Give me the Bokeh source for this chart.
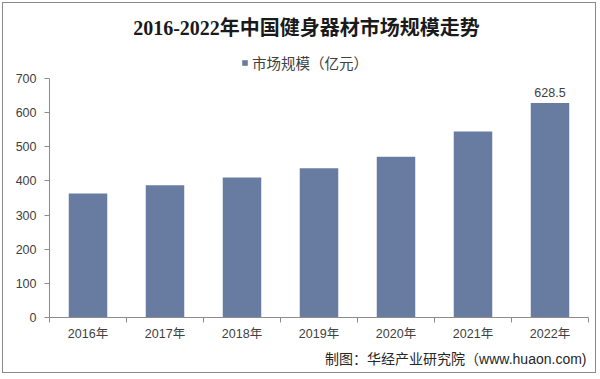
from bokeh.plotting import figure
from bokeh.models import (ColumnDataSource, FixedTicker, Label, Legend, LegendItem, Range1d, Title)
from bokeh.core.properties import value
from bokeh.embed import file_html
from bokeh.resources import INLINE

# ---- data ----
years = ["2016年", "2017年", "2018年", "2019年", "2020年", "2021年", "2022年"]
market_size = [363, 387, 410, 437, 471, 545, 628.5]
y_ticks = [0, 100, 200, 300, 400, 500, 600, 700]
title_text = "2016-2022年中国健身器材市场规模走势"
series_name = "市场规模（亿元）"
source_text = "制图：华经产业研究院（www.huaon.com)"

BAR = "#687CA1"
AXIS = "#8C8C8C"
TXT = "#404040"
SANS = "Liberation Sans, Noto Sans CJK SC"

n = len(years)
centers = [i + 0.5 for i in range(n)]
src = ColumnDataSource(dict(x=centers, top=market_size, year=years))

# layout (pixels inside the canvas)
W, H = 594, 371
FRAME_H = 314          # frame spans canvas top to the x axis
AXIS_TOP_PX = 75       # where 700 sits
y_max = y_ticks[-1]
y_end = y_max + AXIS_TOP_PX * y_max / (FRAME_H - AXIS_TOP_PX)

p = figure(width=W, height=H, output_backend="svg", toolbar_location=None, title=None,
           x_range=Range1d(0, n), y_range=Range1d(0, y_end),
           min_border_left=46, min_border_right=9, min_border_top=0,
           min_border_bottom=H - FRAME_H)
p.styles = {"border": "1px solid #8a8a8a", "box-sizing": "border-box", "margin": "2px"}
p.outline_line_color = None
p.xgrid.visible = False
p.ygrid.visible = False

r = p.vbar(x="x", top="top", width=0.5, source=src, fill_color=BAR, line_color=None)

# x axis: labels at centers, ticks at boundaries
xa = p.xaxis[0]
xa.ticker = FixedTicker(ticks=centers, minor_ticks=list(range(n + 1)))
xa.major_label_overrides = {c: y for c, y in zip(centers, years)}
xa.major_tick_line_color = None
xa.minor_tick_line_color = AXIS
xa.minor_tick_out = 5
xa.minor_tick_in = 0
xa.axis_line_color = AXIS
xa.major_label_text_font = SANS
xa.major_label_text_font_size = "12.5px"
xa.major_label_text_color = TXT
xa.major_label_standoff = 3

ya = p.yaxis[0]
ya.ticker = FixedTicker(ticks=y_ticks)
ya.bounds = (0, y_max)
ya.minor_tick_line_color = None
ya.major_tick_line_color = AXIS
ya.major_tick_out = 5
ya.major_tick_in = 0
ya.axis_line_color = AXIS
ya.major_label_text_font = SANS
ya.major_label_text_font_size = "12.5px"
ya.major_label_text_color = TXT
ya.major_label_standoff = 8

# data label on last bar
lab_src = ColumnDataSource(dict(x=[centers[-1]], y=[market_size[-1]], t=[str(market_size[-1])]))
p.text(x="x", y="y", text="t", source=lab_src, text_align="center", text_baseline="bottom",
       y_offset=-6, text_font=value("Liberation Sans"), text_font_size="12.5px", text_color=TXT)

# legend (inside the tall frame, above the 700 line)
legend = Legend(items=[LegendItem(label=series_name, renderers=[r])],
                location=(192, FRAME_H - 70), orientation="horizontal",
                glyph_width=7, glyph_height=7, label_standoff=4, padding=0, margin=0,
                spacing=0, label_height=20, label_text_font=SANS,
                label_text_font_size="14.5px", label_text_color=TXT,
                background_fill_alpha=0, border_line_color=None)
p.add_layout(legend, "center")

# title
p.add_layout(Label(x=257, y=FRAME_H - 24, x_units="screen", y_units="screen", text=title_text,
                   text_align="center", text_baseline="middle",
                   text_font="Liberation Serif, Noto Sans CJK SC", text_font_style="bold",
                   text_font_size="20px", text_color="#1a1a1a"))

# source note
p.add_layout(Title(text=source_text, align="right", offset=2, text_font=SANS,
                   text_font_style="normal", text_font_size="14px", text_color="#262626"),
             "below")

open("out.html", "w").write(file_html(p, INLINE))
